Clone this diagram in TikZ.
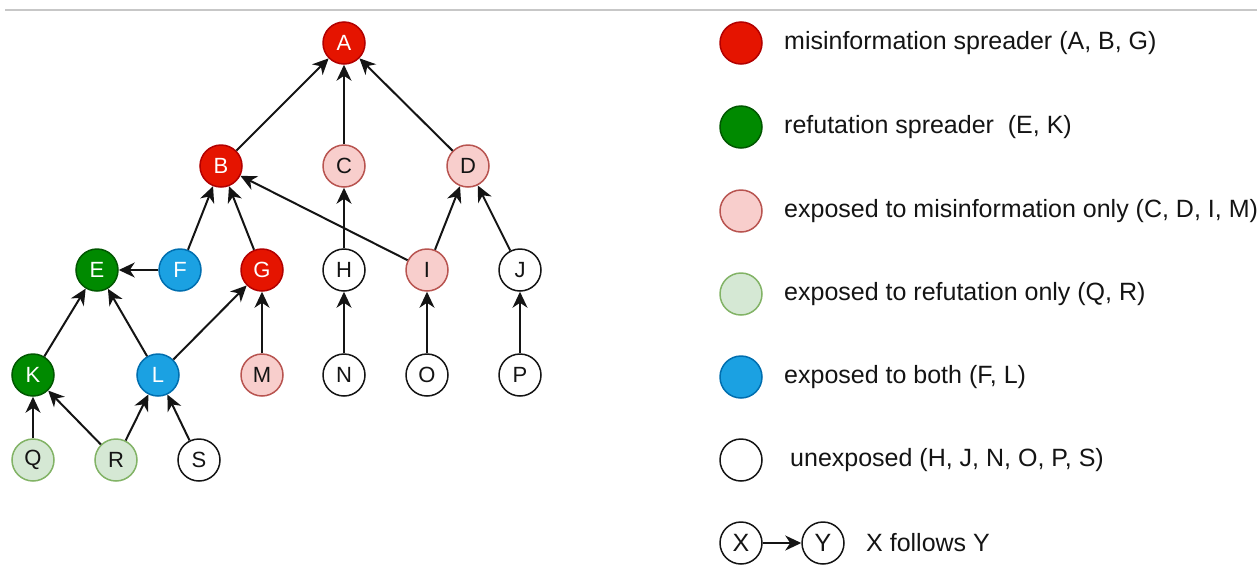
\documentclass[tikz,border=0pt]{standalone}
\usepackage{fontspec}
\setmainfont{Liberation Sans}
\usetikzlibrary{arrows.meta}
\definecolor{redF}{HTML}{E51400}\definecolor{redD}{HTML}{B20000}
\definecolor{grnF}{HTML}{008A00}\definecolor{grnD}{HTML}{005700}
\definecolor{lrF}{HTML}{F8CECC}\definecolor{lrD}{HTML}{B85450}
\definecolor{lgF}{HTML}{D5E8D4}\definecolor{lgD}{HTML}{82B366}
\definecolor{blF}{HTML}{1BA1E2}\definecolor{blD}{HTML}{006EAF}
\definecolor{txt}{HTML}{141414}
\tikzset{
  nd/.style={circle,minimum size=42pt,inner sep=0pt,line width=1.5pt,font=\fontsize{22}{25}\selectfont},
  mis/.style={nd,fill=redF,draw=redD,text=white},
  ref/.style={nd,fill=grnF,draw=grnD,text=white},
  exm/.style={nd,fill=lrF,draw=lrD,text=txt},
  exr/.style={nd,fill=lgF,draw=lgD,text=txt},
  both/.style={nd,fill=blF,draw=blD,text=white},
  unx/.style={nd,fill=white,draw=txt,text=txt},
  fol/.style={line width=2pt,color=txt,-{Stealth[length=16pt,width=15pt,inset=5pt]}},
  leg/.style={anchor=west,text=txt,font=\fontsize{25}{29}\selectfont,inner sep=0pt}
}
\begin{document}
\begin{tikzpicture}[x=1pt,y=-1pt]
\useasboundingbox (0,0) rectangle (1257,568);
\coordinate (l1) at (5,10); \coordinate (l2) at (1257,10);
\draw[color=black!22,line width=1.3pt] (l1) -- (l2);
% graph nodes
\node[mis] (A) at (344,43) {A};
\node[mis] (B) at (221,166) {B};
\node[exm] (C) at (344,166) {C};
\node[exm] (D) at (468,166) {D};
\node[ref] (E) at (97,270) {E};
\node[both] (F) at (180,270) {F};
\node[mis] (G) at (262,270) {G};
\node[unx] (H) at (344,270) {H};
\node[exm] (I) at (427,270) {I};
\node[unx] (J) at (520,270) {J};
\node[ref] (K) at (33,375) {K};
\node[both] (L) at (158,375) {L};
\node[exm] (M) at (262,375) {M};
\node[unx] (N) at (344,375) {N};
\node[unx] (O) at (427,375) {O};
\node[unx] (P) at (520,375) {P};
\node[exr] (Q) at (33,460) {Q};
\node[exr] (R) at (116,460) {R};
\node[unx] (S) at (199,460) {S};
% edges
\foreach \a/\b in {B/A,C/A,D/A,F/B,G/B,I/B,H/C,I/D,J/D,F/E,K/E,L/E,L/G,M/G,N/H,O/I,P/J,Q/K,R/K,R/L,S/L}
  \draw[fol] (\a) -- (\b);
% legend
\node[mis] (l1c) at (741,43) {};
\node[ref] (l2c) at (741,127) {};
\node[exm] (l3c) at (741,211) {};
\node[exr] (l4c) at (741,294) {};
\node[both] (l5c) at (741,377) {};
\node[unx] (l6c) at (741,460) {};
\node[leg] (t1) at (784,43) {misinformation spreader (A, B, G)};
\node[leg] (t2) at (784,127) {refutation spreader~ (E, K)};
\node[leg] (t3) at (784,211) {exposed to misinformation only (C, D, I, M)};
\node[leg] (t4) at (784,294) {exposed to refutation only (Q, R)};
\node[leg] (t5) at (784,377) {exposed to both (F, L)};
\node[leg] (t6) at (790,460) {unexposed (H, J, N, O, P, S)};
\node[unx,font=\fontsize{25}{29}\selectfont] (X) at (741,543) {X};
\node[unx,font=\fontsize{25}{29}\selectfont] (Y) at (823,543) {Y};
\draw[fol] (X) -- (Y);
\node[leg] (t7) at (866,543) {X follows Y};
\end{tikzpicture}
\end{document}
